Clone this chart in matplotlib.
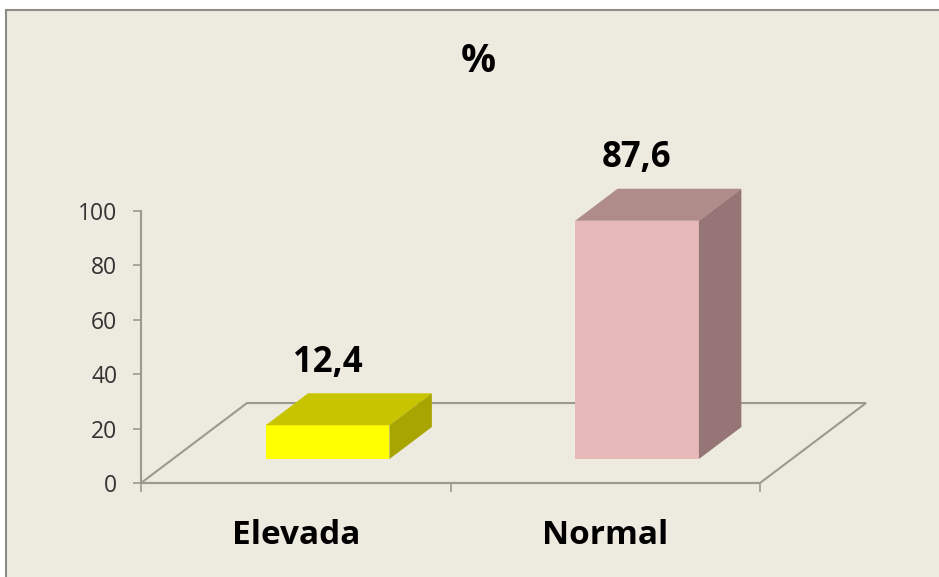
import numpy as np
import matplotlib.pyplot as plt
from matplotlib.patches import Polygon, Rectangle

categorias = ['Elevada', 'Normal']
valores = [12.4, 87.6]
etiquetas = ['12,4', '87,6']
yticks = [0, 20, 40, 60, 80, 100]

cor_frente = ['#FFFF00', '#E6B8B7']
cor_topo = ['#C8C400', '#AF8C8A']
cor_lado = ['#A8A500', '#957575']

fundo = '#EDEAE0'
cinza = '#9A9A8E'

fig = plt.figure(figsize=(9.39, 5.77), dpi=100, facecolor='white')
fig.add_artist(Rectangle((6 / 939, -0.02), 1.1, 1 - 10 / 577 + 0.02,
                         transform=fig.transFigure, facecolor=fundo,
                         edgecolor='#8C8C84', lw=1.5, zorder=0))

ax = fig.add_axes([141 / 939, 94 / 577, 619 / 939, 272 / 577])
ax.set_facecolor('none')
ax.set_xlim(-0.5, 1.5)
ax.set_ylim(0, 100)

# profundidade do "3D" em unidades de dados
dx, dy = 0.3425, 29.4
larg = 0.4
f, b = 0.3, 0.7

# chao
chao = Polygon([(-0.5, 0), (1.5, 0), (1.5 + dx, dy), (-0.5 + dx, dy)],
               closed=True, fill=False, edgecolor=cinza, lw=1.5,
               clip_on=False, zorder=1)
ax.add_patch(chao)

for i, v in enumerate(valores):
    x0, x1 = i - larg / 2, i + larg / 2
    fx, fy = f * dx, f * dy
    bx, by = b * dx, b * dy
    frente = Polygon([(x0 + fx, fy), (x1 + fx, fy), (x1 + fx, fy + v), (x0 + fx, fy + v)],
                     closed=True, facecolor=cor_frente[i], edgecolor='none', clip_on=False, zorder=3)
    topo = Polygon([(x0 + fx, fy + v), (x1 + fx, fy + v), (x1 + bx, by + v), (x0 + bx, by + v)],
                   closed=True, facecolor=cor_topo[i], edgecolor='none', clip_on=False, zorder=3)
    lado = Polygon([(x1 + fx, fy), (x1 + bx, by), (x1 + bx, by + v), (x1 + fx, fy + v)],
                   closed=True, facecolor=cor_lado[i], edgecolor='none', clip_on=False, zorder=3)
    for p in (frente, topo, lado):
        ax.add_patch(p)
    ax.annotate(etiquetas[i], xy=(i + fx, v + by), xytext=(0, 22), textcoords='offset points',
                ha='center', va='center', fontsize=25, fontweight='bold',
                family='Open Sans', color='black', annotation_clip=False)
    ax.annotate(categorias[i], xy=(i, 0), xycoords=('data', 'axes fraction'),
                xytext=(0, -38), textcoords='offset points', ha='center', va='center',
                fontsize=24, fontweight='bold', family='Open Sans', color='black',
                annotation_clip=False)

for s in ['top', 'right']:
    ax.spines[s].set_visible(False)
for s in ['left', 'bottom']:
    ax.spines[s].set_color(cinza)
    ax.spines[s].set_linewidth(1.5)

ax.set_yticks(yticks)
ax.set_yticklabels([str(t) for t in yticks], family='Open Sans', fontsize=16.5, color='#333333')
ax.tick_params(axis='y', direction='out', length=6, width=1.2, color=cinza, pad=11)
ax.set_xticks([-0.5, 0.5, 1.5])
ax.set_xticklabels([])
ax.tick_params(axis='x', direction='out', length=6.5, width=1.2, color=cinza)

fig.text(478 / 939, 1 - 61 / 577, '%', ha='center', va='center', fontsize=28,
         fontweight='bold', family='Open Sans', color='black')

fig.savefig('out.png', dpi=100, facecolor=fig.get_facecolor())
